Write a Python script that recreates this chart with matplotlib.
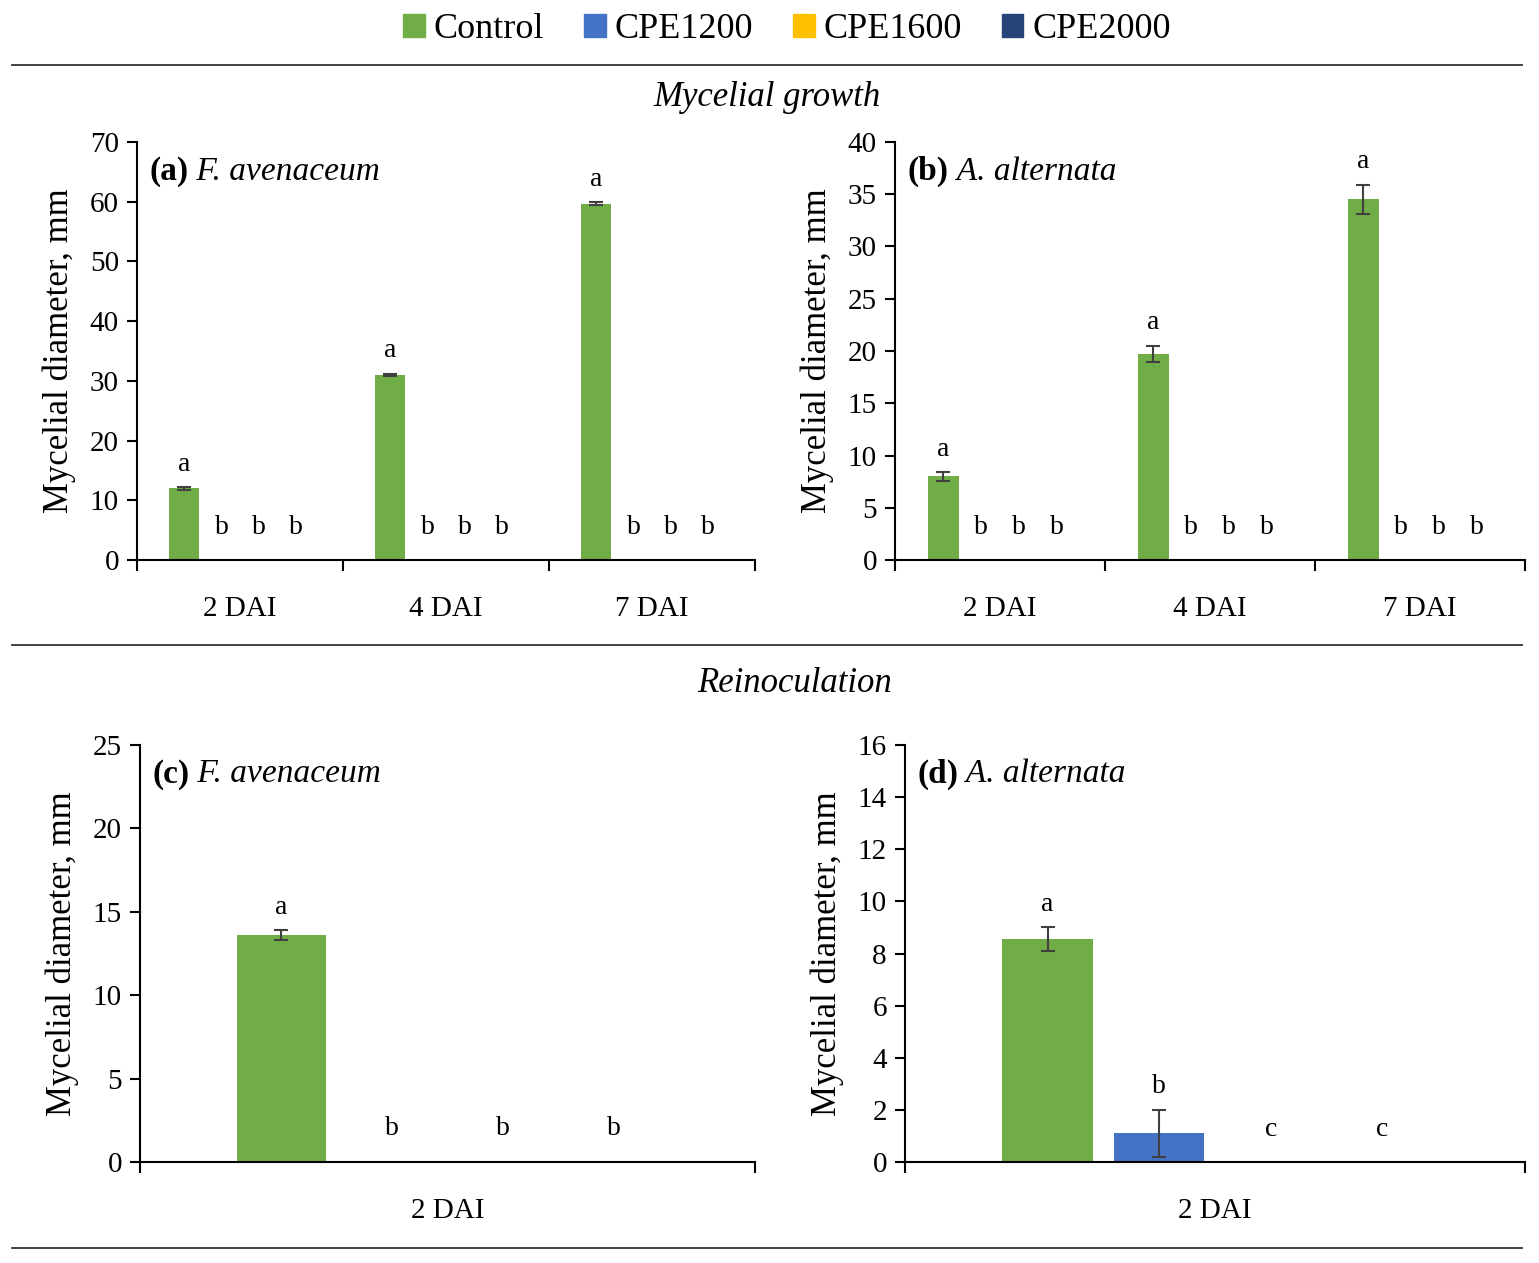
import matplotlib
matplotlib.use('Agg')
import matplotlib.pyplot as plt
import matplotlib.patches as mpatches
from matplotlib.lines import Line2D
import numpy as np

plt.rcParams.update({'font.family': 'serif', 'font.serif': ['Liberation Serif', 'DejaVu Serif'],
                     'font.size': 21})

series = ['Control', 'CPE1200', 'CPE1600', 'CPE2000']
colors = ['#70AD47', '#4472C4', '#FFC000', '#264478']

days_top = ['2 DAI', '4 DAI', '7 DAI']
days_bot = ['2 DAI']

# values per series per category
a_vals = [[12.0, 31.0, 59.7], [0, 0, 0], [0, 0, 0], [0, 0, 0]]
a_err = [[0.2, 0.2, 0.2], [0, 0, 0], [0, 0, 0], [0, 0, 0]]
a_let = [['a', 'a', 'a'], ['b', 'b', 'b'], ['b', 'b', 'b'], ['b', 'b', 'b']]

b_vals = [[8.0, 19.7, 34.5], [0, 0, 0], [0, 0, 0], [0, 0, 0]]
b_err = [[0.4, 0.8, 1.4], [0, 0, 0], [0, 0, 0], [0, 0, 0]]
b_let = a_let

c_vals = [[13.6], [0], [0], [0]]
c_err = [[0.3], [0], [0], [0]]
c_let = [['a'], ['b'], ['b'], ['b']]

d_vals = [[8.55], [1.1], [0], [0]]
d_err = [[0.45], [0.9], [0], [0]]
d_let = [['a'], ['b'], ['c'], ['c']]

W = 1539; H = 1263
fig = plt.figure(figsize=(W / 100, H / 100), dpi=100)

def rect(x0, x1, ytop, ybot):
    return [x0 / W, 1 - ybot / H, (x1 - x0) / W, (ybot - ytop) / H]

def panel(r, cats, vals, errs, lets, ymax, ystep, tag, species, low_y):
    ax = fig.add_axes(r)
    x = np.arange(len(cats))
    offs = [-0.27, -0.09, 0.09, 0.27]
    for i in range(4):
        v = np.array(vals[i]); e = np.array(errs[i])
        ax.bar(x + offs[i], v, width=0.146, color=colors[i], zorder=2)
        if e.any():
            ax.errorbar(x + offs[i], v, yerr=e, fmt='none', ecolor='#404040',
                        elinewidth=1.5, capsize=5, capthick=1.5, zorder=3)
        for j in range(len(cats)):
            if v[j] > 0:
                ax.text(x[j] + offs[i], v[j] + e[j] + ymax * 0.025, lets[i][j],
                        ha='center', va='bottom', fontsize=20)
            else:
                ax.text(x[j] + offs[i], low_y, lets[i][j], ha='center', va='center', fontsize=20)
    ax.set_xlim(-0.5, len(cats) - 0.5)
    ax.set_ylim(0, ymax)
    ax.set_yticks(np.arange(0, ymax + 0.01, ystep))
    ax.set_xticks(x)
    ax.set_xticklabels(cats, fontsize=21)
    ax.set_xticks(np.arange(-0.5, len(cats)), minor=True)
    ax.tick_params(axis='x', which='major', length=0, pad=26)
    ax.tick_params(axis='x', which='minor', length=8, direction='out', width=1.5)
    ax.tick_params(axis='y', length=7, direction='out', width=1.5, labelsize=21, pad=6)
    for s in ['top', 'right']:
        ax.spines[s].set_visible(False)
    for s in ['left', 'bottom']:
        ax.spines[s].set_linewidth(1.5)
    ax.set_ylabel('Mycelial diameter, mm', fontsize=25, labelpad=10)
    t = ax.text(0.02, 0.93, tag, transform=ax.transAxes, fontweight='bold', fontsize=24, va='center')
    ax.annotate(' ' + species, xy=(1, 0.5), xycoords=t, va='center', ha='left',
                style='italic', fontsize=24)
    return ax

panel(rect(137, 755, 142, 560), days_top, a_vals, a_err, a_let, 70, 10, '(a)', 'F. avenaceum', 5.5)
panel(rect(895, 1525, 142, 560), days_top, b_vals, b_err, b_let, 40, 5, '(b)', 'A. alternata', 3.1)
panel(rect(140, 755, 745, 1162), days_bot, c_vals, c_err, c_let, 25, 5, '(c)', 'F. avenaceum', 2.0)
panel(rect(905, 1525, 745, 1162), days_bot, d_vals, d_err, d_let, 16, 2, '(d)', 'A. alternata', 1.25)

# separators and section titles
for yp in [65, 645, 1248]:
    fig.add_artist(Line2D([12 / W, 1522 / W], [1 - yp / H, 1 - yp / H], color='#333333', lw=1.3))
fig.text(767 / W, 1 - 97 / H, 'Mycelial growth', ha='center', va='center', style='italic', fontsize=25)
fig.text(795 / W, 1 - 684 / H, 'Reinoculation', ha='center', va='center', style='italic', fontsize=25)

handles = [mpatches.Patch(color=c, label=s) for s, c in zip(series, colors)]
fig.legend(handles=handles, loc='center', bbox_to_anchor=(787 / W, 1 - 30 / H), ncol=4,
           frameon=False, fontsize=26, handlelength=0.6, handleheight=0.6,
           handletextpad=0.25, columnspacing=1.1)

fig.savefig('out.png', dpi=100, facecolor='white')
